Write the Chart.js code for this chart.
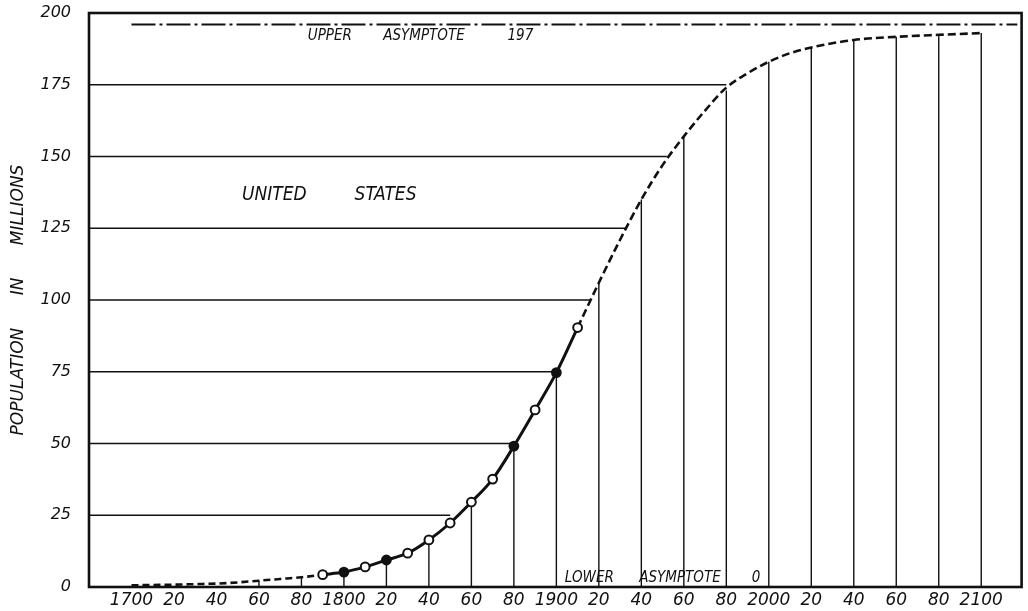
<!DOCTYPE html>
<html>
<head>
<meta charset="utf-8">
<script src="https://cdn.jsdelivr.net/npm/chart.js@4.4.1/dist/chart.umd.min.js"></script>
<style>
  html, body { margin: 0; padding: 0; background: #fff; }
  #wrap { width: 1028px; height: 611px; }
</style>
</head>
<body>
<div id="wrap"><canvas id="chart"></canvas></div>
<script>
// census points (solid curve with circles)
const obsYears = [1790, 1800, 1810, 1820, 1830, 1840, 1850, 1860, 1870, 1880, 1890, 1900, 1910]
const obsPop = [4.3, 5.2, 7.0, 9.4, 11.8, 16.4, 22.3, 29.6, 37.6, 49.1, 61.7, 74.7, 90.4]

// fitted curve, dashed part before the census
const earlyYears = [1700, 1710, 1720, 1730, 1740, 1750, 1760, 1770, 1780, 1790]
const earlyPop = [0.6, 0.7, 0.8, 1.0, 1.2, 1.6, 2.2, 2.8, 3.4, 4.3]

// fitted curve, dashed part after the census
const lateYears = [1910, 1920, 1930, 1940, 1950, 1960, 1970, 1980, 1990, 2000, 2010, 2020, 2040, 2060, 2080, 2100]
const latePop = [90.4, 106, 121, 135, 147, 157, 166, 174, 179, 183, 186, 188, 190.6, 191.7, 192.4, 193]

// vertical drop lines, from the axis up to the curve
const dropYears = [1760, 1780, 1800, 1820, 1840, 1860, 1880, 1900, 1920, 1940, 1960, 1980, 2000, 2020, 2040, 2060, 2080, 2100]
const dropTops = [2.2, 3.4, 5.2, 9.4, 16.4, 29.6, 49.1, 74.7, 106, 135, 157, 173, 183, 188, 190.6, 191.7, 192.4, 193]

// horizontal lines, from the axis across to the curve
const levelValues = [25, 50, 75, 100, 125, 150, 175]
const levelEnds = [1850, 1880, 1900, 1916, 1933, 1952, 1980]

const upperAsymptote = 196

const xTickYears = [1700, 1720, 1740, 1760, 1780, 1800, 1820, 1840, 1860, 1880, 1900, 1920, 1940, 1960, 1980, 2000, 2020, 2040, 2060, 2080, 2100]
const xTickLabels = ['1700', '20', '40', '60', '80', '1800', '20', '40', '60', '80', '1900', '20', '40', '60', '80', '2000', '20', '40', '60', '80', '2100']

const X_MIN = 1680, X_MAX = 2119
const INK = '#111'

const seg = (x1, y1, x2, y2, width, dash) => ({
    data: [{x: x1, y: y1}, {x: x2, y: y2}],
    showLine: true,
    pointRadius: 0,
    borderColor: INK,
    borderWidth: width,
    borderDash: dash || [],
    order: 3,
})

let datasets = []
dropYears.forEach((yr, i) => datasets.push(seg(yr, 0, yr, dropTops[i], 1.4)))
levelValues.forEach((v, i) => datasets.push(seg(X_MIN, v, levelEnds[i], v, 1.4)))
datasets.push(seg(1700, upperAsymptote, 2117, upperAsymptote, 2.2, [24, 4, 3, 4]))

datasets.push({
    data: earlyYears.map((x, i) => ({x, y: earlyPop[i]})),
    showLine: true, pointRadius: 0, borderColor: INK, borderWidth: 2.6,
    borderDash: [7, 4], cubicInterpolationMode: 'monotone', order: 2,
})
datasets.push({
    data: lateYears.map((x, i) => ({x, y: latePop[i]})),
    showLine: true, pointRadius: 0, borderColor: INK, borderWidth: 2.6,
    borderDash: [8, 4], cubicInterpolationMode: 'monotone', order: 2,
})

const filledYears = [1800, 1820, 1880, 1900]
datasets.push({
    data: obsYears.map((x, i) => ({x, y: obsPop[i]})),
    showLine: true, borderColor: INK, borderWidth: 3,
    cubicInterpolationMode: 'monotone',
    pointRadius: 4.4, pointBorderWidth: 2, pointBorderColor: INK,
    pointBackgroundColor: obsYears.map(y => filledYears.includes(y) ? INK : '#fff'),
    order: 1,
})

// frame round the plot, and the lettering inside it
const framePlugin = {
    id: 'frame',
    afterDatasetsDraw(chart) {
        const {ctx, chartArea: a, scales: {x, y}} = chart
        ctx.save()
        ctx.strokeStyle = INK
        ctx.lineWidth = 2.6
        ctx.strokeRect(a.left, a.top, a.right - a.left, a.bottom - a.top)

        ctx.fillStyle = INK
        ctx.textBaseline = 'middle'
        ctx.textAlign = 'left'
        const put = (txt, yr, val, size) => {
            ctx.font = `italic ${size}px 'DejaVu Sans Condensed', 'DejaVu Sans', sans-serif`
            ctx.fillText(txt, x.getPixelForValue(yr), y.getPixelForValue(val))
        }
        put('UNITED', 1752, 136.5, 19)
        put('STATES', 1805, 136.5, 19)
        put('UPPER', 1783, 192, 15)
        put('ASYMPTOTE', 1818.5, 192, 15)
        put('197', 1877, 192, 15)
        put('LOWER', 1904, 3, 15)
        put('ASYMPTOTE', 1939, 3, 15)
        put('0', 1992, 3, 15)
        ctx.restore()
    }
}

const chart = new Chart(document.getElementById('chart'), {
    type: 'scatter',
    data: {datasets},
    options: {
        responsive: true,
        maintainAspectRatio: false,
        animation: false,
        layout: {padding: {top: 13, right: 6, left: 0, bottom: 0}},
        plugins: {legend: {display: false}, tooltip: {enabled: false}},
        scales: {
            x: {
                type: 'linear',
                min: X_MIN,
                max: X_MAX,
                grid: {display: false, drawTicks: false},
                border: {display: false},
                afterBuildTicks: axis => { axis.ticks = xTickYears.map(v => ({value: v})) },
                afterFit: axis => { axis.height = 24 },
                ticks: {
                    autoSkip: false,
                    maxRotation: 0,
                    padding: 3,
                    color: INK,
                    font: {family: 'DejaVu Sans', size: 17, style: 'italic'},
                    callback: v => xTickLabels[xTickYears.indexOf(v)],
                }
            },
            y: {
                min: 0,
                max: 200,
                grid: {display: false, drawTicks: false},
                border: {display: false},
                afterFit: axis => {
                    axis.width = 89
                    axis.paddingTop = 0   // tick padding would otherwise push the frame down
                    axis.paddingBottom = 0
                },
                ticks: {
                    stepSize: 25,
                    padding: 18,
                    color: INK,
                    font: {family: 'DejaVu Sans', size: 16, style: 'italic'},
                },
                title: {
                    display: true,
                    text: 'POPULATION      IN      MILLIONS',
                    color: INK,
                    padding: {top: 8, bottom: 0},
                    font: {family: 'DejaVu Sans', size: 17, style: 'italic'},
                }
            }
        }
    },
    plugins: [framePlugin]
})
</script>
</body>
</html>
